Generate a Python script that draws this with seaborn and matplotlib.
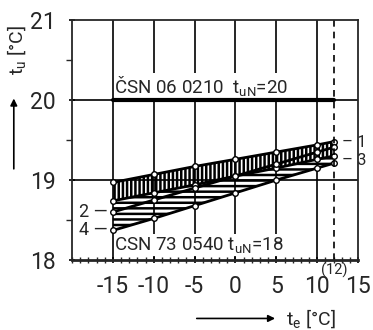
import matplotlib
matplotlib.use('Agg')
import matplotlib.pyplot as plt
import seaborn as sns

# outdoor temperature te [°C] and room temperature tu [°C]
te = [-15, -10, -5, 0, 5, 10, 12]
tu_1 = [18.97, 19.07, 19.17, 19.26, 19.35, 19.44, 19.48]
tu_3 = [18.74, 18.84, 18.94, 19.05, 19.15, 19.26, 19.30]
tu_2 = [18.60, 18.75, 18.90, 19.05, 19.20, 19.35, 19.41]
tu_4 = [18.37, 18.52, 18.68, 18.84, 19.00, 19.15, 19.21]

norm_te = [-15, 12]
norm_tu = [20, 20]
te_limit = 12

x_ticks = [-15, -10, -5, 0, 5, 10, 15]
y_ticks = [18, 19, 20, 21]

sns.set_style('ticks')
plt.rcParams['font.family'] = ['Roboto', 'DejaVu Sans']
plt.rcParams['mathtext.fontset'] = 'custom'
plt.rcParams['mathtext.rm'] = 'Roboto'
plt.rcParams['mathtext.it'] = 'Roboto'
plt.rcParams['hatch.linewidth'] = 1.8

fig = plt.figure(figsize=(3.73, 3.30), dpi=100)
ax = fig.add_axes([0.193, 0.212, 0.767, 0.727])

# hatched bands
ax.fill_between(te, tu_1, tu_3, facecolor='none', edgecolor='black', hatch='||||', linewidth=0)
ax.fill_between(te, tu_3, tu_4, facecolor='none', edgecolor='black', hatch='---', linewidth=0)

for tu in [tu_1, tu_3, tu_2, tu_4]:
    sns.lineplot(x=te, y=tu, ax=ax, color='black', linewidth=2, marker='o',
                 markersize=4, markerfacecolor='white', markeredgecolor='black',
                 markeredgewidth=1)

sns.lineplot(x=norm_te, y=norm_tu, ax=ax, color='black', linewidth=3, zorder=6)
ax.axvline(te_limit, color='black', linestyle=(0, (4, 3)), linewidth=1.2)

ax.set_xlim(-20, 15)
ax.set_ylim(18, 21)
ax.set_xticks(x_ticks)
ax.set_yticks(y_ticks)
ax.set_xticks(range(-20, 16), minor=True)
ax.set_yticks([18.5, 19.5, 20.5], minor=True)
ax.set_xticklabels([str(v) for v in x_ticks])
ax.tick_params(axis='both', which='major', labelsize=16.5, length=5, width=1.2,
               direction='inout', color='black')
ax.tick_params(axis='x', which='major', pad=8)
ax.tick_params(axis='y', which='major', pad=9)
ax.tick_params(axis='x', which='minor', length=4, width=1, direction='inout')
ax.tick_params(axis='y', which='minor', length=4, width=1, direction='out')

for v in [-15, -10, -5, 0, 5, 10]:
    ax.axvline(v, color='black', linewidth=1.2, zorder=0)
for v in [19, 20]:
    ax.axhline(v, color='black', linewidth=1.2, zorder=0)

for side in ['top', 'right', 'left']:
    ax.spines[side].set_linewidth(1.3)
ax.spines['bottom'].set_linewidth(2)
ax.spines['bottom'].set_zorder(7)

box = dict(facecolor='white', edgecolor='none', pad=0.5)
ax.text(-14.8, 20.09, r'ČSN 06 0210  $\mathregular{t_{uN}}$=20', fontsize=13.5,
        ha='left', va='baseline', bbox=box, zorder=5)
ax.text(-14.8, 18.125, r'CSN 73 0540 $\mathregular{t_{uN}}$=18', fontsize=13.5,
        ha='left', va='baseline', bbox=box, zorder=5)
ax.text(12.1, 17.87, '(12)', fontsize=10.5, ha='center', va='center', clip_on=False)

ax.text(-15.6, 18.6, '2 —', fontsize=13, ha='right', va='center')
ax.text(-15.6, 18.37, '4 —', fontsize=13, ha='right', va='center')
ax.text(13.0, 19.47, '– 1', fontsize=12, ha='left', va='center', clip_on=False)
ax.text(13.0, 19.25, '– 3', fontsize=12, ha='left', va='center', clip_on=False)

# axis labels with arrows
fig.text(0.045, 0.85, r'$\mathregular{t_u}$ [°C]', rotation=90, fontsize=14, ha='center', va='center')
ax.annotate('', xy=(0.037, 0.71), xytext=(0.037, 0.48), xycoords='figure fraction',
            arrowprops=dict(arrowstyle='-|>', color='black', lw=1.2))
fig.text(0.835, 0.035, r'$\mathregular{t_e}$ [°C]', fontsize=14, ha='center', va='center')
ax.annotate('', xy=(0.745, 0.035), xytext=(0.52, 0.035), xycoords='figure fraction',
            arrowprops=dict(arrowstyle='-|>', color='black', lw=1.2))

fig.savefig('out.png', dpi=100)
